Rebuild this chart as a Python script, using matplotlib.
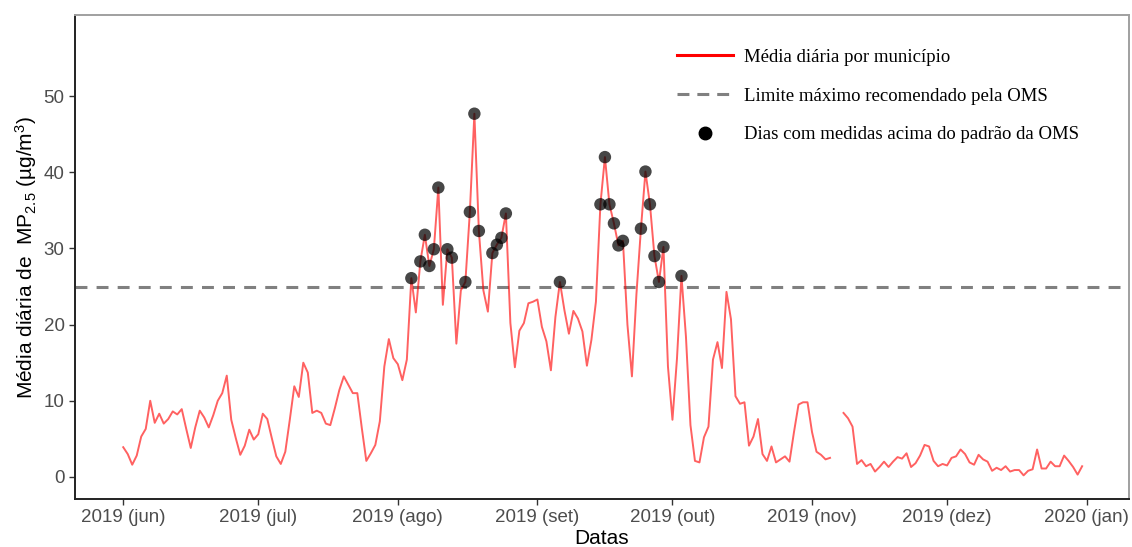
import numpy as np
import pandas as pd
import matplotlib
matplotlib.use("Agg")
import matplotlib.pyplot as plt
from matplotlib.lines import Line2D

# daily PM2.5 means, 2019-06-01 .. 2019-12-31 (nan = no data)
jun = [3.9, 3.0, 1.6, 2.8, 5.3, 6.3, 10.0, 7.1, 8.3, 7.0,
       7.6, 8.6, 8.2, 8.9, 6.3, 3.8, 6.5, 8.7, 7.8, 6.5,
       8.1, 10.0, 11.0, 13.3, 7.5, 5.1, 2.9, 4.1, 6.2, 4.9]
jul = [5.6, 8.3, 7.6, 5.1, 2.7, 1.7, 3.3, 7.5, 11.9, 10.5,
       15.0, 13.7, 8.4, 8.7, 8.4, 7.0, 6.8, 9.0, 11.4, 13.2,
       12.1, 11.0, 11.0, 6.4, 2.1, 3.1, 4.2, 7.3, 14.5, 18.1, 15.6]
ago = [14.8, 12.7, 15.4, 26.1, 21.6, 28.3, 31.8, 27.7, 29.9, 38.0,
       22.6, 29.9, 28.8, 17.5, 24.5, 25.6, 34.8, 47.7, 32.3, 24.5,
       21.7, 29.4, 30.5, 31.4, 34.6, 20.2, 14.4, 19.2, 20.2, 22.8, 23.0]
set_ = [23.3, 19.7, 17.8, 14.0, 21.0, 25.6, 21.9, 18.8, 21.8, 20.8,
        19.1, 14.6, 18.0, 23.0, 35.8, 42.0, 35.8, 33.3, 30.4, 31.0,
        20.0, 13.2, 24.0, 32.6, 40.1, 35.8, 29.0, 25.6, 30.2, 14.5]
out = [7.5, 15.5, 26.4, 18.4, 6.8, 2.1, 1.9, 5.2, 6.6, 15.4,
       17.7, 14.3, 24.3, 20.7, 10.6, 9.6, 9.8, 4.1, 5.3, 7.6,
       3.0, 2.1, 4.0, 1.9, 2.3, 2.7, 2.0, 5.9, 9.5, 9.8, 9.8]
nov = [5.9, 3.3, 2.9, 2.3, 2.5, np.nan, np.nan, 8.4, 7.7, 6.6,
       1.7, 2.2, 1.4, 1.7, 0.7, 1.3, 2.0, 1.3, 2.0, 2.6,
       2.4, 3.1, 1.3, 1.8, 2.8, 4.2, 4.0, 2.1, 1.4, 1.7]
dez = [1.5, 2.5, 2.7, 3.6, 3.0, 1.9, 1.6, 2.9, 2.3, 2.0,
       0.8, 1.2, 0.9, 1.4, 0.7, 0.9, 0.9, 0.2, 0.8, 1.0,
       3.6, 1.1, 1.1, 2.0, 1.4, 1.4, 2.8, 2.1, 1.3, 0.3, 1.4]

valores = np.array(jun + jul + ago + set_ + out + nov + dez)
datas = pd.date_range("2019-06-01", periods=len(valores), freq="D")
limite_oms = 25

tick_datas = pd.to_datetime(["2019-06-01", "2019-07-01", "2019-08-01", "2019-09-01",
                             "2019-10-01", "2019-11-01", "2019-12-01", "2020-01-01"])
tick_labels = ["2019 (jun)", "2019 (jul)", "2019 (ago)", "2019 (set)",
               "2019 (out)", "2019 (nov)", "2019 (dez)", "2020 (jan)"]

plt.rcParams["font.family"] = ["Liberation Sans", "DejaVu Sans"]
plt.rcParams["mathtext.default"] = "regular"

fig = plt.figure(figsize=(11.32, 5.47), dpi=100)
ax = fig.add_axes([0.0663, 0.0878, 0.9310, 0.8839])

ax.plot(datas, valores, color="#ff0000", alpha=0.62, lw=1.4, zorder=2)
ax.axhline(limite_oms, color="#808080", lw=2.2, dashes=(3.9, 3.0), zorder=1)
acima = valores > limite_oms
ax.scatter(datas[acima], valores[acima], s=80, color="black", alpha=0.72,
           edgecolors="none", zorder=3)

ax.set_xlim(datas[0] - pd.Timedelta(days=10.7), datas[0] + pd.Timedelta(days=223.4))
ax.set_ylim(-2.9, 60.6)
ax.set_yticks([0, 10, 20, 30, 40, 50])
ax.set_xticks(tick_datas)
ax.set_xticklabels(tick_labels)
ax.tick_params(axis="both", labelsize=13.5, labelcolor="#4d4d4d", color="#333333",
               length=4, width=1)

for lado in ["left", "bottom"]:
    ax.spines[lado].set_color("#222222")
    ax.spines[lado].set_linewidth(1.4)
for lado in ["top", "right"]:
    ax.spines[lado].set_color("#a0a0a0")
    ax.spines[lado].set_linewidth(1.4)

ax.set_xlabel("Datas", fontsize=15, labelpad=2)
ax.set_ylabel("Média diária de  MP$_{2.5}$ (µg/m$^{3}$)", fontsize=15, labelpad=3)

handles = [
    Line2D([], [], color="#ff0000", lw=2.2),
    Line2D([], [], color="#808080", lw=2.2, dashes=(3.9, 2.6)),
    Line2D([], [], color="black", marker="o", ls="none", markersize=9),
]
labels = ["Média diária por município",
          "Limite máximo recomendado pela OMS",
          "Dias com medidas acima do padrão da OMS"]
ax.legend(handles, labels, loc="upper left", bbox_to_anchor=(0.555, 0.966),
          frameon=False, handlelength=3.0, labelspacing=1.15, handletextpad=0.6,
          prop={"family": "Liberation Serif", "size": 13.5})

fig.savefig("out.png", dpi=100)
